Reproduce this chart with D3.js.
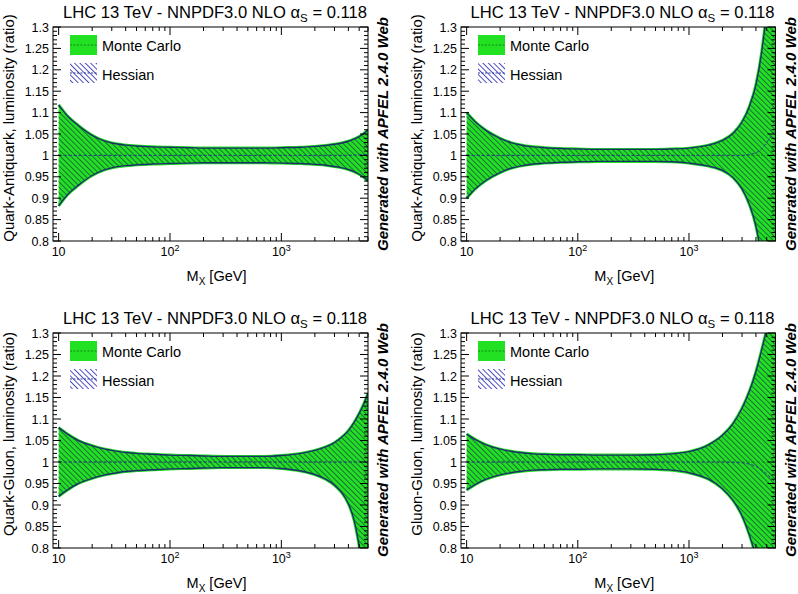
<!DOCTYPE html>
<html><head><meta charset="utf-8">
<script src="https://cdn.jsdelivr.net/npm/d3@7"></script>
<style>
body{margin:0;background:#fff;}
text{font-family:"Liberation Sans",Arial,Helvetica,sans-serif;fill:#000;}
</style></head>
<body><svg id="c" width="798" height="594"></svg>
<script>
// ---------------- data ----------------
const mass = [10,12,15,20,25,30,40,50,70,100,150,200,300,500,700,1000,1500,2000,2500,3000,3500,4000,4500,5000,5500,6000];

// Quark-Antiquark (top-left)
const qqA_up = [1.118,1.092,1.070,1.047,1.035,1.029,1.024,1.022,1.020,1.019,1.018,1.017,1.017,1.017,1.017,1.018,1.019,1.021,1.023,1.026,1.029,1.033,1.038,1.044,1.051,1.060];
const qqA_lo = [0.882,0.908,0.930,0.953,0.965,0.971,0.976,0.978,0.980,0.981,0.982,0.983,0.983,0.983,0.983,0.982,0.981,0.979,0.977,0.974,0.971,0.967,0.962,0.956,0.949,0.940];
const qqA_hc = [1,1,1,1,1,1,1,1,1,1,1,1,1,1,1,1,1,1,1,1,1,1,1.001,1.001,1.002,1.002];

// Quark-Antiquark (top-right)
const qqB_up = [1.100,1.078,1.058,1.040,1.030,1.025,1.020,1.018,1.016,1.015,1.014,1.014,1.014,1.014,1.015,1.017,1.024,1.035,1.052,1.078,1.115,1.165,1.240,1.340,1.460,1.600];
const qqB_lo = [0.900,0.922,0.942,0.960,0.970,0.975,0.980,0.982,0.984,0.985,0.986,0.986,0.986,0.986,0.985,0.982,0.975,0.965,0.948,0.922,0.885,0.835,0.760,0.660,0.540,0.400];
const qqB_hc = [1,1,1,1,1,1,1,1,1,1,1,1,1,1,1,1,1,1,1,1,1.002,1.006,1.015,1.030,1.045,1.060];

// Quark-Gluon (bottom-left)
const qg_up = [1.080,1.065,1.050,1.038,1.031,1.027,1.022,1.020,1.018,1.016,1.015,1.014,1.013,1.013,1.013,1.015,1.020,1.027,1.035,1.045,1.058,1.073,1.092,1.113,1.135,1.160];
const qg_lo = [0.920,0.935,0.950,0.962,0.969,0.973,0.978,0.980,0.982,0.984,0.985,0.986,0.987,0.987,0.987,0.985,0.979,0.971,0.960,0.946,0.928,0.903,0.865,0.805,0.730,0.650];
const qg_hc = [1,1,1,1,1,1,1,1,1,1,1,1,1,1,1,1,1,1,1,1,1,1,1,1,1,1];

// Gluon-Gluon (bottom-right)
const gg_up = [1.065,1.052,1.040,1.030,1.025,1.022,1.019,1.018,1.017,1.017,1.016,1.016,1.016,1.017,1.019,1.024,1.040,1.062,1.090,1.125,1.165,1.210,1.260,1.310,1.370,1.430];
const gg_lo = [0.935,0.948,0.960,0.970,0.975,0.978,0.981,0.982,0.983,0.983,0.984,0.984,0.984,0.983,0.981,0.975,0.960,0.938,0.910,0.875,0.830,0.780,0.730,0.680,0.630,0.570];
const gg_hc = [1,1,1,1,1,1,1,1,1,1,1,1,1,1,1,1,1,1,0.999,0.998,0.995,0.990,0.982,0.972,0.962,0.952];

const yMajorTicks = [0.8,0.85,0.9,0.95,1,1.05,1.1,1.15,1.2,1.25,1.3];
const yTickLabels = ["0.8","0.85","0.9","0.95","1","1.05","1.1","1.15","1.2","1.25","1.3"];
const xMajorTicks = [10,100,1000];
const xTickBase = ["10","10","10"];
const xTickExp = ["","2","3"];
const xMinorTicks = [20,30,40,50,60,70,80,90,200,300,400,500,600,700,800,900,2000,3000,4000,5000,6000];
const yTitles = ["Quark-Antiquark, luminosity (ratio)","Quark-Antiquark, luminosity (ratio)","Quark-Gluon, luminosity (ratio)","Gluon-Gluon, luminosity (ratio)"];
const legendLabels = ["Monte Carlo","Hessian"];
const titleMain = "LHC 13 TeV - NNPDF3.0 NLO α";
const titleSub = "S";
const titleEnd = " = 0.118";
const watermark = "Generated with APFEL 2.4.0 Web";

const panelsData = [
  {up:qqA_up, lo:qqA_lo, hc:qqA_hc},
  {up:qqB_up, lo:qqB_lo, hc:qqB_hc},
  {up:qg_up, lo:qg_lo, hc:qg_hc},
  {up:gg_up, lo:gg_lo, hc:gg_hc}
];
// ---------------- layout ----------------
const frames = [
  {x0:53, x1:368, y0:27, y1:241},
  {x0:461, x1:775.5, y0:27, y1:241},
  {x0:53, x1:368, y0:333, y1:548},
  {x0:461, x1:775.5, y0:333, y1:548}
];
const GREEN = "#22e022", GREEN_DARK = "#128a12", BLUE = "#2a3a9a", EDGE = "#1b2f6a";

const svg = d3.select("#c");
const defs = svg.append("defs");
function hatch(id, color, sw){
  const p = defs.append("pattern").attr("id",id).attr("patternUnits","userSpaceOnUse")
    .attr("width",3.8).attr("height",3.8).attr("patternTransform","rotate(-45)");
  p.append("line").attr("x1",0.5).attr("y1",0).attr("x2",0.5).attr("y2",3.8)
    .attr("stroke",color).attr("stroke-width",sw);
}
hatch("hatchBand","#1e4a4a",0.75);
hatch("hatchLeg","#3a3ab8",0.9);

frames.forEach((f,i)=>{
  const d = panelsData[i];
  const g = svg.append("g");
  const x = d3.scaleLog().domain([8.9,6000]).range([f.x0,f.x1]);
  const y = d3.scaleLinear().domain([0.8,1.3]).range([f.y1,f.y0]);
  const cid = "clip"+i;
  defs.append("clipPath").attr("id",cid).append("rect")
    .attr("x",f.x0).attr("y",f.y0).attr("width",f.x1-f.x0).attr("height",f.y1-f.y0);
  const pts = mass.map((m,k)=>({m, u:d.up[k], l:d.lo[k], c:d.hc[k]}));
  const area = d3.area().curve(d3.curveMonotoneX).x(p=>x(p.m)).y0(p=>y(p.l)).y1(p=>y(p.u));
  const lineU = d3.line().curve(d3.curveMonotoneX).x(p=>x(p.m)).y(p=>y(p.u));
  const lineL = d3.line().curve(d3.curveMonotoneX).x(p=>x(p.m)).y(p=>y(p.l));
  const lineC1 = d3.line().curve(d3.curveMonotoneX).x(p=>x(p.m)).y(p=>y(1));
  const lineC2 = d3.line().curve(d3.curveMonotoneX).x(p=>x(p.m)).y(p=>y(p.c));
  const pg = g.append("g").attr("clip-path",`url(#${cid})`);
  pg.append("path").attr("d",area(pts)).attr("fill",GREEN);
  pg.append("path").attr("d",lineU(pts)).attr("fill","none").attr("stroke",GREEN).attr("stroke-width",3);
  pg.append("path").attr("d",lineL(pts)).attr("fill","none").attr("stroke",GREEN).attr("stroke-width",3);
  pg.append("path").attr("d",area(pts)).attr("fill","url(#hatchBand)");
  pg.append("path").attr("d",lineU(pts)).attr("fill","none").attr("stroke",EDGE).attr("stroke-width",1.4);
  pg.append("path").attr("d",lineL(pts)).attr("fill","none").attr("stroke",EDGE).attr("stroke-width",1.4);
  pg.append("path").attr("d",lineC1(pts)).attr("fill","none").attr("stroke",GREEN_DARK).attr("stroke-width",1).attr("stroke-dasharray","3,2");
  pg.append("path").attr("d",lineC2(pts)).attr("fill","none").attr("stroke",BLUE).attr("stroke-width",1).attr("stroke-dasharray","3,2");

  // frame
  g.append("rect").attr("x",f.x0).attr("y",f.y0).attr("width",f.x1-f.x0).attr("height",f.y1-f.y0)
    .attr("fill","none").attr("stroke","#000").attr("stroke-width",1);

  // y ticks (minor every 0.01)
  const yMinor = d3.range(0,51).map(k=>+(0.8+k*0.01).toFixed(2));
  yMinor.forEach(v=>{
    const major = Math.abs(v*20-Math.round(v*20))<1e-6;
    const L = major?8:4;
    g.append("line").attr("x1",f.x0).attr("x2",f.x0+L).attr("y1",y(v)).attr("y2",y(v)).attr("stroke","#000");
    g.append("line").attr("x1",f.x1).attr("x2",f.x1-L).attr("y1",y(v)).attr("y2",y(v)).attr("stroke","#000");
  });
  yMajorTicks.forEach((v,k)=>{
    g.append("text").attr("x",f.x0-4).attr("y",y(v)+4.5).attr("text-anchor","end")
      .attr("font-size",12.5).text(yTickLabels[k]);
  });
  // x ticks
  xMinorTicks.forEach(v=>{
    g.append("line").attr("x1",x(v)).attr("x2",x(v)).attr("y1",f.y1).attr("y2",f.y1-4).attr("stroke","#000");
    g.append("line").attr("x1",x(v)).attr("x2",x(v)).attr("y1",f.y0).attr("y2",f.y0+4).attr("stroke","#000");
  });
  xMajorTicks.forEach((v,k)=>{
    g.append("line").attr("x1",x(v)).attr("x2",x(v)).attr("y1",f.y1).attr("y2",f.y1-8).attr("stroke","#000");
    g.append("line").attr("x1",x(v)).attr("x2",x(v)).attr("y1",f.y0).attr("y2",f.y0+8).attr("stroke","#000");
    const t = g.append("text").attr("x",x(v)).attr("y",f.y1+15).attr("text-anchor","middle").attr("font-size",12.5);
    t.append("tspan").text(xTickBase[k]);
    if(xTickExp[k]) t.append("tspan").attr("dy",-5).attr("font-size",9).text(xTickExp[k]);
  });
  // x title
  const xt = g.append("text").attr("x",(f.x0+f.x1)/2+6).attr("y",f.y1+40).attr("text-anchor","middle").attr("font-size",14.5);
  xt.append("tspan").text("M");
  xt.append("tspan").attr("dy",4).attr("font-size",10).text("X");
  xt.append("tspan").attr("dy",-4).text(" [GeV]");
  // y title
  g.append("text").attr("transform",`translate(${f.x0-39},${f.y0+101})rotate(-90)`)
    .attr("text-anchor","middle").attr("font-size",15).text(yTitles[i]);
  // title
  const tt = g.append("text").attr("x",f.x1-1).attr("y",f.y0-9).attr("text-anchor","end").attr("font-size",16.6);
  tt.append("tspan").text(titleMain);
  tt.append("tspan").attr("dy",4).attr("font-size",11.5).text(titleSub);
  tt.append("tspan").attr("dy",-4).text(titleEnd);
  // watermark
  g.append("text").attr("transform",`translate(${f.x1+20},${f.y0-10})rotate(-90)`)
    .attr("text-anchor","end").attr("font-size",15).attr("font-weight","bold").attr("font-style","italic").text(watermark);
  // legend
  const lx = f.x0+17, ly1 = f.y0+8, ly2 = f.y0+36, lw = 27, lh = 20;
  g.append("rect").attr("x",lx).attr("y",ly1).attr("width",lw).attr("height",lh).attr("fill",GREEN);
  g.append("line").attr("x1",lx).attr("x2",lx+lw).attr("y1",ly1+lh/2).attr("y2",ly1+lh/2)
    .attr("stroke",GREEN_DARK).attr("stroke-dasharray","2,1.5");
  g.append("rect").attr("x",lx).attr("y",ly2).attr("width",lw).attr("height",lh).attr("fill","url(#hatchLeg)");
  g.append("line").attr("x1",lx).attr("x2",lx+lw).attr("y1",ly2+lh/2).attr("y2",ly2+lh/2)
    .attr("stroke",BLUE).attr("stroke-width",1.2).attr("stroke-dasharray","2,1.5");
  g.append("text").attr("x",lx+32).attr("y",ly1+16).attr("font-size",14.5).text(legendLabels[0]);
  g.append("text").attr("x",lx+32).attr("y",ly2+17).attr("font-size",14.5).text(legendLabels[1]);
});
</script></body></html>
